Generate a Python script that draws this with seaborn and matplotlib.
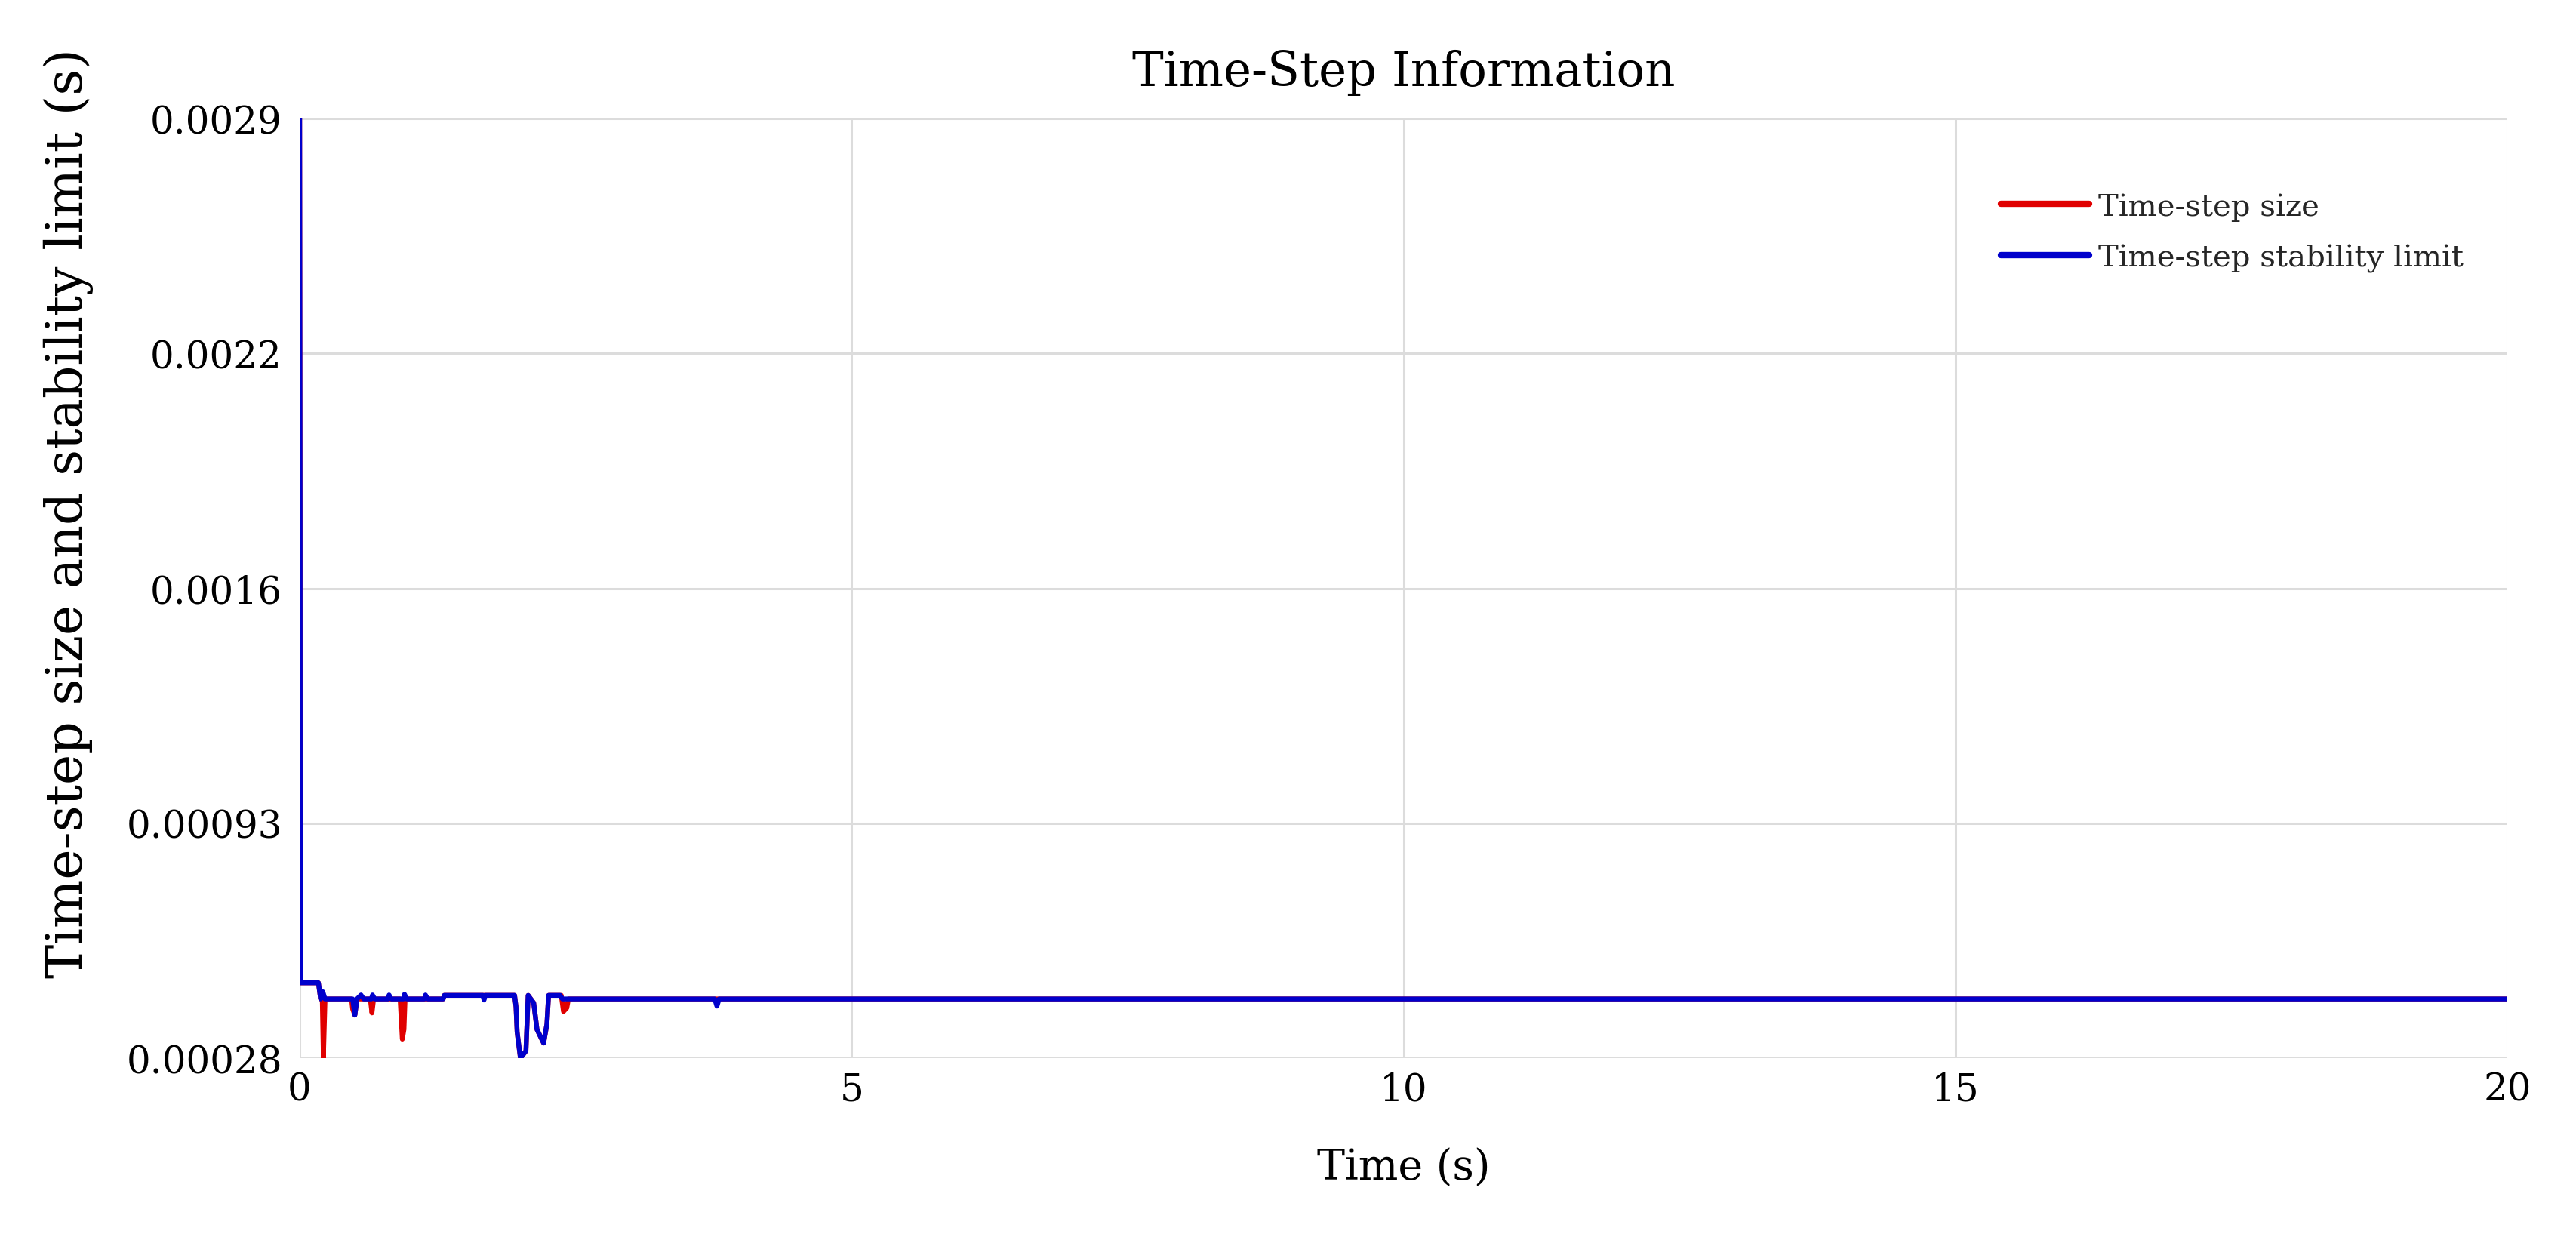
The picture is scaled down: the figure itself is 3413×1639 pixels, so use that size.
import numpy as np
import pandas as pd
import matplotlib
matplotlib.use("Agg")
import matplotlib.pyplot as plt
from matplotlib.lines import Line2D
import seaborn as sns

# ---------------- data ----------------
series_names = ["Time-step size", "Time-step stability limit"]
series_colors = ["#e00000", "#0000cc"]

time_size = [0.0, 0.004, 0.006, 0.17, 0.19, 0.205, 0.215, 0.23, 0.47, 0.48, 0.50, 0.52,
             0.64, 0.655, 0.67, 0.91, 0.93, 0.945, 0.955, 1.30, 1.31, 1.947, 1.96,
             1.97, 2.0, 2.05, 2.07, 2.12, 2.15, 2.21, 2.24, 2.255, 2.37, 2.39, 2.42,
             2.435, 20.0]
step_size = [0.0029, 0.00178, 0.00049, 0.00049, 0.000445, 0.000445, 0.00028, 0.000445,
             0.000445, 0.000417, 0.0004, 0.000445, 0.000445, 0.000406, 0.000445,
             0.000445, 0.000333, 0.00036, 0.000445, 0.000445, 0.000455, 0.000455,
             0.000423, 0.000353, 0.00028, 0.0003, 0.000455, 0.000434, 0.00036,
             0.000322, 0.000375, 0.000455, 0.000455, 0.00041, 0.00042, 0.000445,
             0.000445]

time_limit = [0.0, 0.004, 0.006, 0.17, 0.19, 0.21, 0.23, 0.48, 0.50, 0.52, 0.556, 0.58,
              0.65, 0.66, 0.68, 0.80, 0.81, 0.83, 0.94, 0.95, 0.97, 1.13, 1.14, 1.16,
              1.30, 1.31, 1.66, 1.67, 1.68, 1.947, 1.96, 1.97, 2.0, 2.05, 2.07, 2.12,
              2.15, 2.21, 2.24, 2.255, 2.36, 2.38, 3.76, 3.78, 3.80, 20.0]
stability_limit = [0.0029, 0.00178, 0.00049, 0.00049, 0.000445, 0.000465, 0.000445,
                   0.000445, 0.0004, 0.000445, 0.000456, 0.000445, 0.000445, 0.000456,
                   0.000445, 0.000445, 0.000456, 0.000445, 0.000445, 0.000458,
                   0.000445, 0.000445, 0.000456, 0.000445, 0.000445, 0.000455,
                   0.000455, 0.000442, 0.000455, 0.000455, 0.000423, 0.000353,
                   0.00028, 0.0003, 0.000455, 0.000434, 0.00036, 0.000322, 0.000375,
                   0.000455, 0.000455, 0.000445, 0.000445, 0.000425, 0.000445,
                   0.000445]

x_ticks = [0, 5, 10, 15, 20]
y_min, y_max = 0.00028, 0.0029
y_tick_labels = ["0.00028", "0.00093", "0.0016", "0.0022", "0.0029"]

title = "Time-Step Information"
x_label = "Time (s)"
y_label = "Time-step size and stability limit (s)"

# ---------------- figure ----------------
sns.set_theme(style="whitegrid")
plt.rcParams["font.family"] = ["DejaVu Serif"]

W, H, DPI = 3413, 1640, 200
fig = plt.figure(figsize=(W / DPI, H / DPI), dpi=DPI)
fig.patch.set_facecolor("white")

ax_l, ax_r, ax_t, ax_b = 397, 3322, 158, 1403
ax = fig.add_axes([ax_l / W, 1 - ax_b / H, (ax_r - ax_l) / W, (ax_b - ax_t) / H])
ax.set_facecolor("white")

df = pd.concat([
    pd.DataFrame({"t": time_size, "v": step_size, "series": series_names[0]}),
    pd.DataFrame({"t": time_limit, "v": stability_limit, "series": series_names[1]}),
], ignore_index=True)

sns.lineplot(data=df, x="t", y="v", hue="series", hue_order=series_names,
             palette=series_colors, estimator=None, sort=False,
             linewidth=2.3, legend=False, ax=ax)

ax.set_xlim(0, 20)
ax.set_ylim(y_min, y_max)
ax.set_xticks(x_ticks)
ax.set_xticklabels([str(v) for v in x_ticks])
ax.set_yticks(np.linspace(y_min, y_max, len(y_tick_labels)))
ax.set_yticklabels(y_tick_labels)

grid_c = "#dcdcdc"
ax.grid(True, color=grid_c, linewidth=1.1)
for s in ax.spines.values():
    s.set_visible(False)
ax.tick_params(axis="both", which="major", length=4.3, width=1.1, color=grid_c,
               labelsize=18, labelcolor="black")
ax.tick_params(axis="x", pad=2)
ax.tick_params(axis="y", pad=4)

ax.set_xlabel(x_label, fontsize=20, color="black")
ax.xaxis.set_label_coords(0.5, (ax_b - 1548) / (ax_b - ax_t))
ax.xaxis.label.set_va("center")
ax.set_ylabel(y_label, fontsize=24.5, color="black")
ax.yaxis.set_label_coords((91 - ax_l) / (ax_r - ax_l), (ax_b - 680) / (ax_b - ax_t))
ax.yaxis.label.set_va("center")

fig.text((ax_l + ax_r) / 2 / W, 1 - 96 / H, title, ha="center", va="center",
         fontsize=22.5, color="black")

handles = [Line2D([0], [0], color=c, lw=3.0) for c in series_colors]
leg = ax.legend(handles, series_names, loc="upper left",
                bbox_to_anchor=(2651 / W, 1 - 256 / H), bbox_transform=fig.transFigure,
                frameon=False, fontsize=14.5, handlelength=2.9, handletextpad=0.3,
                labelspacing=0.75, borderpad=0, borderaxespad=0)

fig.savefig("out.png", dpi=DPI, facecolor="white")
